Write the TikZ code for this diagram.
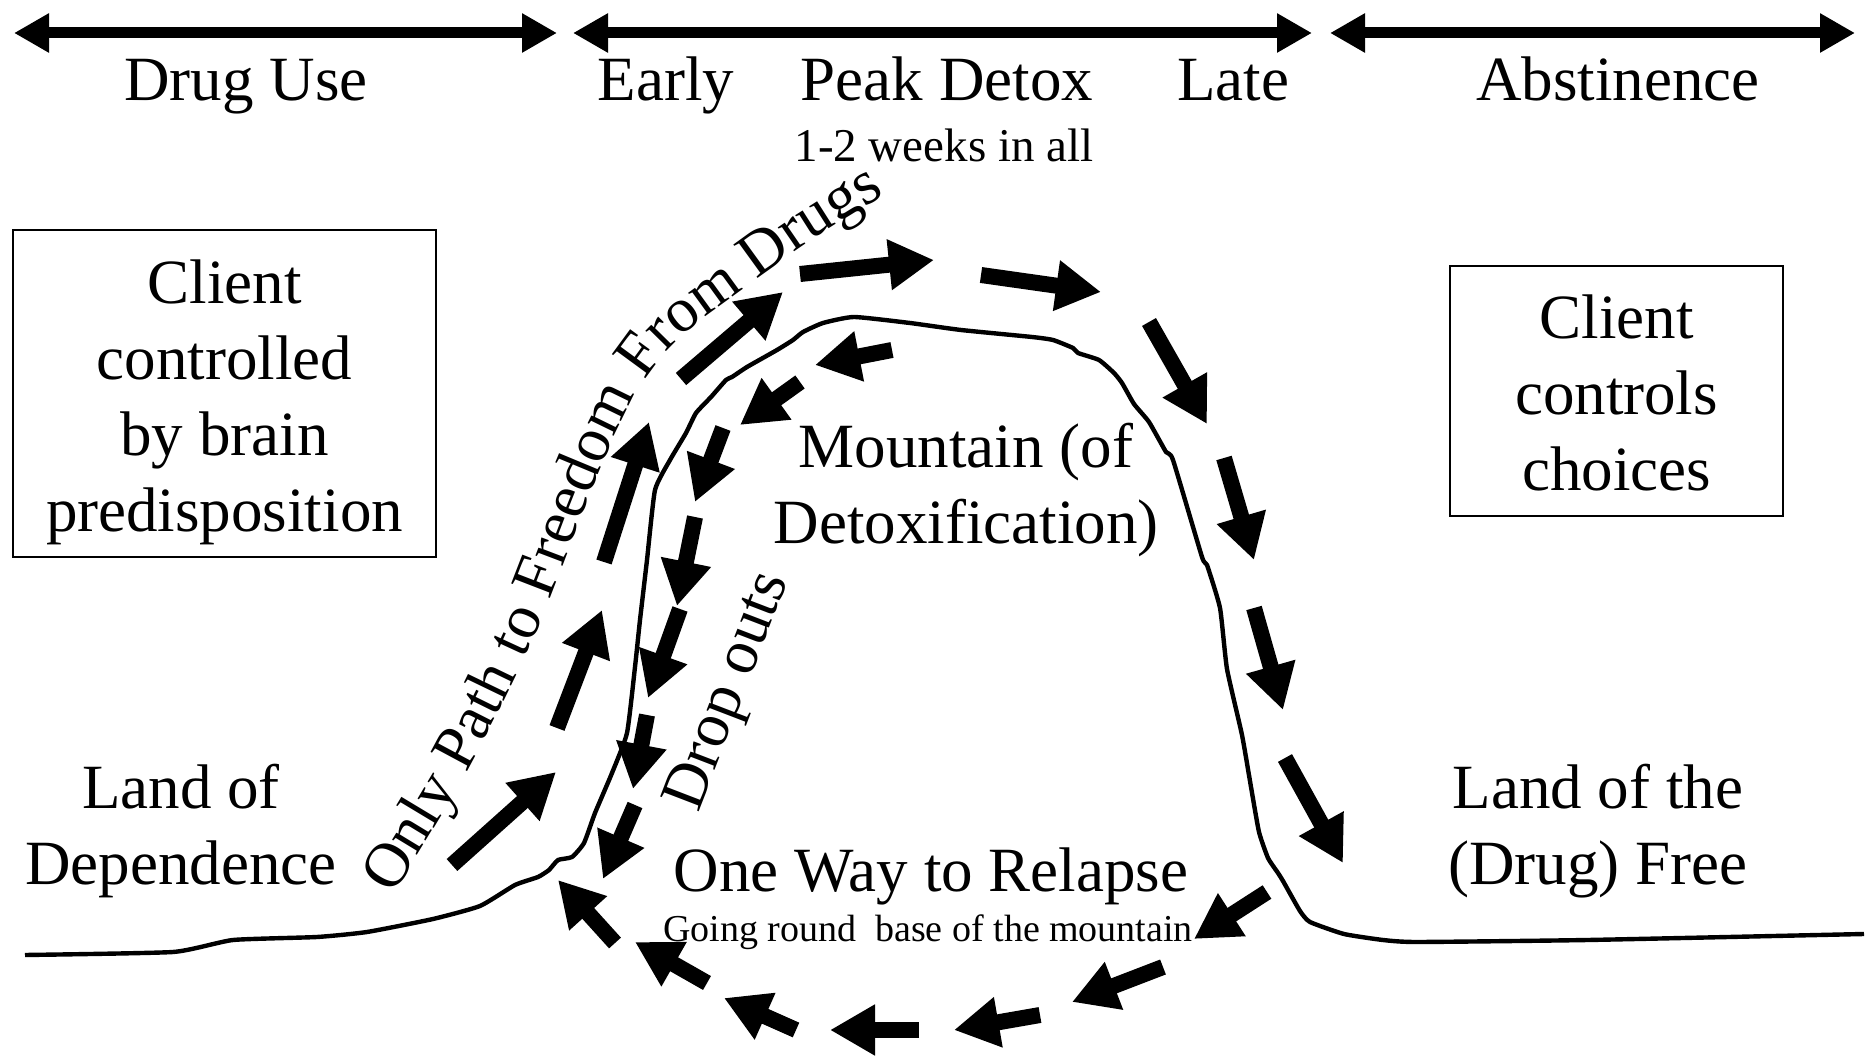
\documentclass[tikz,border=0pt]{standalone}
\usepackage{fontspec}
\setmainfont{Liberation Serif}
\usetikzlibrary{arrows.meta,decorations.text}
\newcommand\pathfont{\fontsize{31.5}{38}\selectfont}
\tikzset{
    timespan/.style={line width=5.5pt,{Triangle[length=17.5pt,width=18.5pt]}-{Triangle[length=17.5pt,width=18.5pt]}},
    blockarr/.style={line width=8pt,-{Triangle[length=22.5pt,width=24pt]}},
    bigtext/.style={font=\fontsize{31.5}{38}\selectfont,align=center,inner sep=0pt},
    smalltext/.style={font=\fontsize{23.5}{28}\selectfont,inner sep=0pt},
    tinytext/.style={font=\fontsize{19}{23}\selectfont,inner sep=0pt},
    textbox/.style={draw,line width=0.8pt}
}
\begin{document}
\begin{tikzpicture}[x=0.5pt,y=-0.5pt]
            \useasboundingbox (0,0) rectangle (1865,1058);
            \draw [timespan] (14,33) -- (557,33);
            \draw [timespan] (573,33) -- (1312,33);
            \draw [timespan] (1330,33) -- (1855,33);
            \node [bigtext,anchor=base] (druguse) at (246,101) {Drug Use};
            \node [bigtext,anchor=base] (early) at (666,101) {Early};
            \node [bigtext,anchor=base] (peak) at (947,101) {Peak Detox};
            \node [bigtext,anchor=base] (late) at (1233,101) {Late};
            \node [bigtext,anchor=base] (abstinence) at (1618,101) {Abstinence};
            \node [smalltext,anchor=base] (weeks) at (944,162) {1-2 weeks in all};
            \node [textbox,minimum width=211.5pt,minimum height=163.5pt] (brainbox) at (224.5,393.5) {};
            \node [bigtext] (braintext) at (224.5,402.5) {Client\\controlled\\by brain\\predisposition};
            \node [textbox,minimum width=166.5pt,minimum height=125pt] (choicebox) at (1616.5,391) {};
            \node [bigtext] (choicetext) at (1616.5,393) {Client\\controls\\choices};
            \node [bigtext] (dependence) at (181,831) {Land of\\Dependence};
            \node [bigtext] (drugfree) at (1598,831) {Land of the\\(Drug) Free};
            \node [bigtext] (mountain) at (966,490) {Mountain (of\\Detoxification)};
            \node [bigtext,anchor=base] (relapse) at (931,892) {One Way to Relapse};
            \node [tinytext,anchor=base] (goinground) at (928,942) {Going round\ \ base of the mountain};
            \node [bigtext,rotate=69] (dropouts) at (730,692) {Drop outs};
            \path [decorate,decoration={text along path,text={|\pathfont|Only Path to Freedom From Drugs},text align=left}]
                plot [smooth,tension=0.5] coordinates {(393,895) (472,763) (537,630) (588,500) (630,405) (672,345) (740,292) (811,241) (900,186) (960,152)};
            \draw [line width=2.2pt,line join=round] plot [smooth,tension=0.3] coordinates {(25,955) (173,952) (233,940) (317,937) (367,932) (433,919) (480,906) (515,885) (538,877) (549,870) (558,860) (572,857) (584,843) (595,813) (612,773) (627,733) (635,667) (640,620) (647,560) (655,490) (670,460) (686,433) (696,413) (711,397) (726,380) (732,377) (747,367) (777,350) (793,340) (803,332) (823,323) (854,317) (910,323) (961,330) (1032,337) (1053,340) (1073,348) (1078,353) (1099,360) (1114,373) (1122,383) (1134,404) (1149,422) (1166,452) (1173,460) (1202,557) (1207,565) (1220,608) (1227,669) (1242,735) (1251,787) (1259,832) (1268,858) (1278,873) (1283,881) (1300,911) (1310,922) (1344,934) (1383,940) (1417,942) (1588,940) (1864,934)};
            \draw [blockarr] (452,865) -- (556,772);
            \draw [blockarr] (557,728) -- (602,610);
            \draw [blockarr] (604,562) -- (649,422);
            \draw [blockarr] (681,379) -- (783,292);
            \draw [blockarr] (800,274) -- (934,260);
            \draw [blockarr] (981,275) -- (1101,292);
            \draw [blockarr] (1149,322) -- (1207,424);
            \draw [blockarr] (1224,458) -- (1254,560);
            \draw [blockarr] (1254,608) -- (1283,710);
            \draw [blockarr] (1285,758) -- (1343,863);
            \draw [blockarr] (1267,892) -- (1194,939);
            \draw [blockarr] (1163,967) -- (1072,1002);
            \draw [blockarr] (1040,1015) -- (954,1030);
            \draw [blockarr] (919,1030) -- (830,1030);
            \draw [blockarr] (796,1030) -- (724,998);
            \draw [blockarr] (707,983) -- (635,942);
            \draw [blockarr] (615,943) -- (558,880);
            \draw [blockarr] (892,350) -- (815,365);
            \draw [blockarr] (800,382) -- (740,425);
            \draw [blockarr] (723,428) -- (695,502);
            \draw [blockarr] (695,517) -- (677,606);
            \draw [blockarr] (680,609) -- (648,698);
            \draw [blockarr] (647,715) -- (633,789);
            \draw [blockarr] (635,805) -- (603,879);
\end{tikzpicture}
\end{document}
